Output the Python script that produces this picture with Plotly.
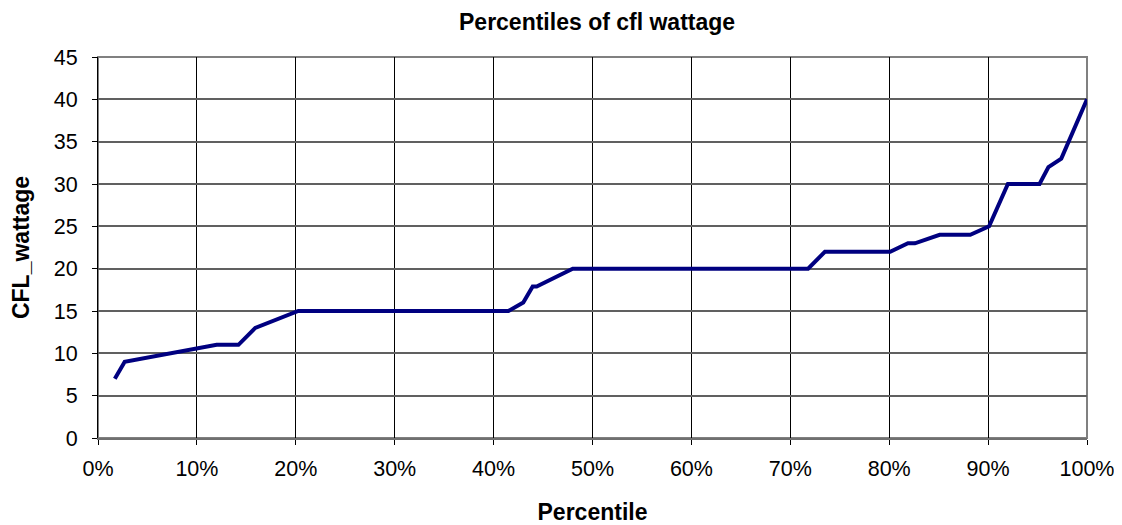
import plotly.graph_objects as go

percentile = [0.017, 0.027, 0.120, 0.142, 0.159, 0.2025, 0.415, 0.430, 0.4395, 0.4435,
              0.480, 0.718, 0.735, 0.801, 0.819, 0.826, 0.851, 0.882, 0.901, 0.920,
              0.952, 0.961, 0.974, 1.000]
wattage = [7, 9, 11, 11, 13, 15, 15, 16, 17.9, 17.9,
           20, 20, 22, 22, 23, 23, 24, 24, 25, 30,
           30, 32, 33, 40]

x_ticks = [i / 10 for i in range(11)]
x_labels = [f"{i*10}%" for i in range(11)]
y_ticks = list(range(0, 50, 5))

font = "Liberation Sans, Arial, sans-serif"

fig = go.Figure()
fig.add_trace(go.Scatter(x=percentile, y=wattage, mode="lines",
                         line=dict(color="#000080", width=4), showlegend=False,
                         cliponaxis=False))

fig.update_layout(
    width=1122, height=525,
    margin=dict(l=90, r=43, t=49, b=95),
    paper_bgcolor="white", plot_bgcolor="white",
    title=dict(text="<b>Percentiles of cfl wattage</b>", x=0.525, xanchor="center",
               xref="container", y=1 - 14 / 525, yref="container", yanchor="middle",
               font=dict(family=font, size=23, color="black")),
    font=dict(family=font, color="black"),
)
fig.update_xaxes(range=[0, 1], tickvals=x_ticks, ticktext=x_labels,
                 showgrid=True, gridcolor="black", gridwidth=1,
                 showline=True, linecolor="#707070", linewidth=2, mirror=False,
                 ticks="outside", ticklen=5, tickcolor="black",
                 ticklabelstandoff=5,
                 tickfont=dict(size=21.5, family=font), zeroline=False,
                 title=dict(text="<b>Percentile</b>", font=dict(size=23, family=font), standoff=24))
fig.update_yaxes(range=[0, 45], tickvals=y_ticks,
                 showgrid=True, gridcolor="#606060", gridwidth=1.5,
                 showline=True, linecolor="black", linewidth=1,
                 ticks="outside", ticklen=5, tickcolor="black",
                 ticklabelstandoff=10,
                 tickfont=dict(size=21.5, family=font), zeroline=False,
                 title=dict(text="<b>CFL_wattage</b>", font=dict(size=23, family=font), standoff=18))

# gray plot border on top and right
fig.add_shape(type="rect", xref="paper", yref="paper", x0=0, y0=0, x1=1, y1=1,
              line=dict(color="#808080", width=2), layer="below")

fig.write_html("out.html")
